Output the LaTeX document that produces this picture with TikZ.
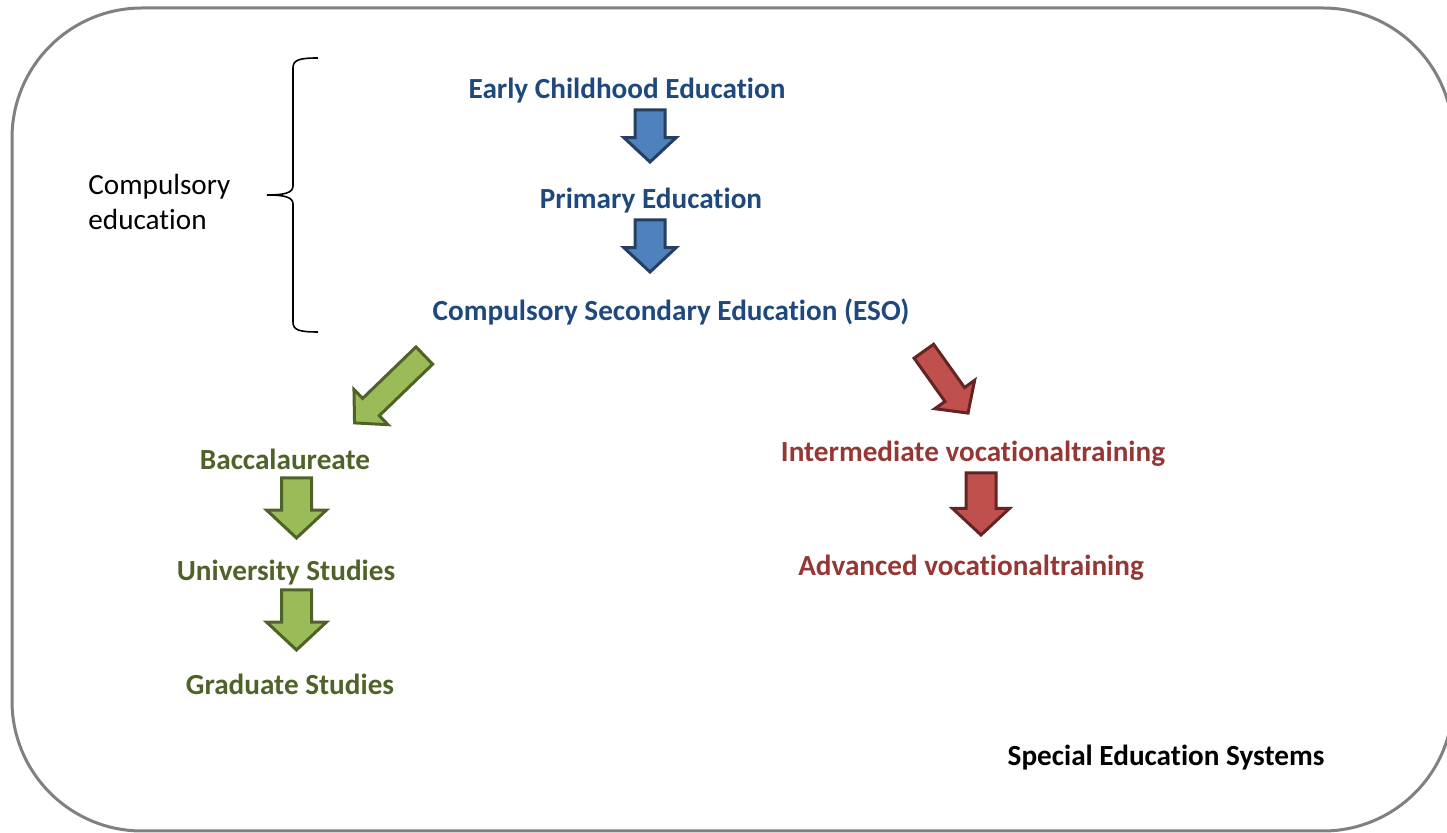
\documentclass[tikz,border=0pt]{standalone}
\usepackage{fontspec}
\setmainfont{Carlito}[Ligatures=NoCommon]
\usetikzlibrary{shapes.arrows}

\definecolor{bluetext}{HTML}{1F497D}
\definecolor{bluefill}{HTML}{4F81BD}
\definecolor{blueedge}{HTML}{243F60}
\definecolor{greentext}{HTML}{4F6228}
\definecolor{greenfill}{HTML}{9BBB59}
\definecolor{greenedge}{HTML}{4F6228}
\definecolor{redtext}{HTML}{953735}
\definecolor{redfill}{HTML}{C0504D}
\definecolor{rededge}{HTML}{632523}

\tikzset{
  blockarrow/.style={
    single arrow,
    line width=1.5pt,
    single arrow tip angle=94,
    anchor=tail,
  },
  down arrow/.style={
    blockarrow,
    inner sep=6.75pt,
    minimum height=30pt,
    single arrow head extend=7.5pt,
    rotate=-90,
  },
  slant arrow/.style={
    blockarrow,
    inner sep=5.25pt,
    single arrow head extend=6.25pt,
  },
}

\begin{document}
\begin{tikzpicture}[x=0.5pt, y=-0.5pt]
        \tikzstyle{stage}=[font=\fontsize{14.6}{17.5}\selectfont\bfseries, inner sep=1pt]
        \tikzstyle{school}=[stage, text=bluetext]
        \tikzstyle{academic}=[stage, text=greentext]
        \tikzstyle{vocational}=[stage, text=redtext]
        \tikzstyle{bluearrow}=[down arrow, draw=blueedge, fill=bluefill, inner sep=6.75pt, single arrow head extend=5.5pt, minimum height=26pt]
        \tikzstyle{greenarrow}=[down arrow, draw=greenedge, fill=greenfill]
        \tikzstyle{redarrow}=[down arrow, draw=rededge, fill=redfill, minimum height=31pt, single arrow head extend=6.75pt]

        \useasboundingbox (0,0) rectangle (1447,833);
        \draw[line width=1.5pt, gray, rounded corners=65pt] (12,8) rectangle (1453,831);

        % compulsory stages
        \node[school] (early) at (627,91) {Early Childhood Education};
        \node[school] (primary) at (651,201) {Primary Education};
        \node[school] (eso) at (671,312) {Compulsory Secondary Education (ESO)};
        \node[bluearrow] (A_1) at (650,108.5) {};
        \node[bluearrow] (A_2) at (650,218.5) {};

        % brace
        \node[font=\fontsize{14.6}{17.5}\selectfont, align=left, anchor=west, inner sep=0pt] (compulsory) at (88,202) {Compulsory\\education};
        \draw[line width=0.8pt] (318,58) .. controls (299,58) and (293,60) .. (293,68) -- (293,186)
            .. controls (293,193) and (284,195) .. (267,195)
            .. controls (284,195) and (293,197) .. (293,204) -- (293,322)
            .. controls (293,330) and (299,332) .. (318,332);

        % baccalaureate branch
        \node[slant arrow, draw=greenedge, fill=greenfill, minimum height=48.5pt, rotate=-136] (A_3) at (425.4,354.5) {};
        \node[academic] (bach) at (285,459) {Baccalaureate};
        \node[academic] (univ) at (286,573) {University Studies};
        \node[academic] (grad) at (290,684) {Graduate Studies};
        \node[greenarrow] (A_4) at (296.5,476.5) {};
        \node[greenarrow] (A_5) at (296.5,588.5) {};

        % vocational branch
        \node[slant arrow, draw=rededge, fill=redfill, minimum height=38pt, rotate=-54.5] (A_6) at (923,350) {};
        \node[vocational] (inter) at (973,454) {Intermediate vocationaltraining};
        \node[vocational] (adv) at (971,568) {Advanced vocationaltraining};
        \node[redarrow] (A_7) at (981,471.5) {};

        \node[stage] (special) at (1166,758) {Special Education Systems};
    \end{tikzpicture}
\end{document}
